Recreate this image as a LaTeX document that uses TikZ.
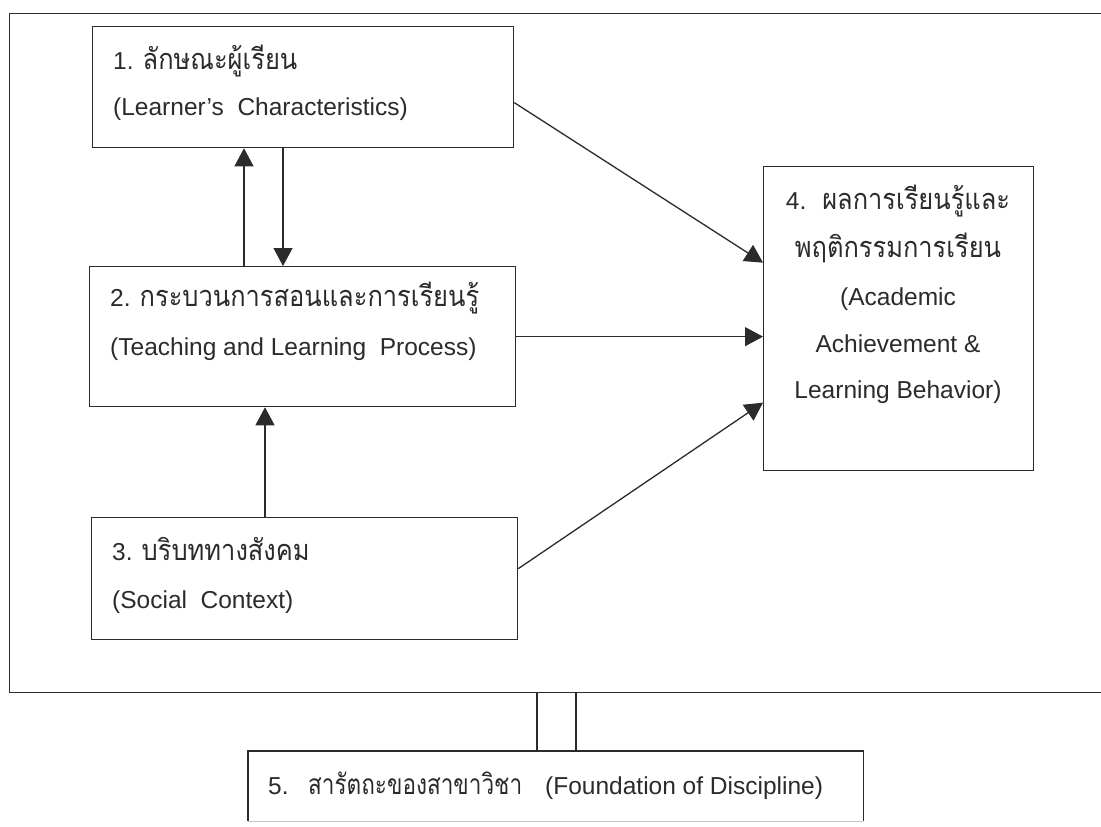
\documentclass[tikz,border=0pt]{standalone}
\usepackage{fontspec}
\setmainfont{Liberation Sans}
\newfontfamily\thaifont[Script=Thai,Scale=1.18,FakeStretch=0.88]{Loma}
\newfontfamily\thaifontsm[Script=Thai,Scale=1.15,FakeStretch=0.8]{Loma}
\usetikzlibrary{arrows.meta}
\definecolor{ink}{HTML}{2B2B2B}
\newcommand{\thtxt}[1]{{\thaifont #1}}

\begin{document}
\begin{tikzpicture}[x=1pt,y=-1pt,
  box/.style={draw=ink, line width=1.3pt, rectangle, inner sep=0pt, anchor=north west},
  lbl/.style={anchor=base west, inner sep=0pt, text=ink, font=\fontsize{24.5}{29}\selectfont},
  clbl/.style={lbl, anchor=base},
  link/.style={draw=ink, line width=1.3pt, -{Triangle[length=18pt,width=19pt]}},
  rail/.style={draw=ink, line width=1.3pt},
]
\useasboundingbox[fill=white] (0,0) rectangle (1101,827);

% outer frame (its right side runs past the page edge)
\node[box, minimum width=1120pt, minimum height=679pt] (frame) at (9,13) {};

% the four boxes of the model
\node[box, minimum width=421pt, minimum height=121pt] (b1) at (92,26) {};
\node[box, minimum width=426pt, minimum height=140pt] (b2) at (89,266) {};
\node[box, minimum width=426pt, minimum height=122pt] (b3) at (91,517) {};
\node[box, minimum width=270pt, minimum height=304pt] (b4) at (763,166) {};

% foundation box below the frame, cut by the page bottom
\node[anchor=north west, inner sep=0pt, minimum width=615pt, minimum height=70pt] (b5) at (248,751) {};
\draw[rail] (b5.south west) -- (b5.north west) -- (b5.north east) -- (b5.south east);
\draw[gray!45, line width=1pt] (b5.south west) -- (b5.south east);

% labels
\node[lbl] (t1a) at (113,69) {1. \thtxt{ลักษณะผู้เรียน}};
\node[lbl] (t1b) at (113,115) {(Learner’s~ Characteristics)};
\node[lbl] (t2a) at (110,306) {2. \thtxt{กระบวนการสอนและการเรียนรู้}};
\node[lbl] (t2b) at (110,355) {(Teaching and Learning~ Process)};
\node[lbl] (t3a) at (112,560) {3. \thtxt{บริบททางสังคม}};
\node[lbl] (t3b) at (112,608) {(Social~ Context)};
\node[clbl] (t4a) at (898,209) {4.~ \thtxt{ผลการเรียนรู้และ}};
\node[clbl] (t4b) at (898,257) {\thtxt{พฤติกรรมการเรียน}};
\node[clbl] (t4c) at (898,305) {(Academic};
\node[clbl] (t4d) at (898,352) {Achievement \&};
\node[clbl] (t4e) at (898,398) {Learning Behavior)};
\node[lbl] (t5a) at (268,794) {5.};
\node[lbl] (t5b) at (308,794) {\thaifontsm สารัตถะของสาขาวิชา};
\node[lbl] (t5c) at (545,794) {(Foundation of Discipline)};

% column positions of the vertical connectors
\coordinate (cu) at (244,0);
\coordinate (cd) at (283,0);
\coordinate (cs) at (265,0);
\coordinate (ra) at (537,0);
\coordinate (rb) at (576,0);

% connectors
\draw[link] (b2.north -| cu) -- (b1.south -| cu);
\draw[link] (b1.south -| cd) -- (b2.north -| cd);
\draw[link] (b3.north -| cs) -- (b2.south -| cs);
\draw[link] ([yshift=-15.5pt]b1.east) -- ([yshift=56pt]b4.west);
\draw[link] (b2.east) -- (b2.east -| b4.west);
\draw[link] ([yshift=10pt]b3.east) -- ([yshift=-84pt]b4.west);

% double rail between the frame and the foundation box
\draw[rail] (frame.south -| ra) -- (b5.north -| ra);
\draw[rail] (frame.south -| rb) -- (b5.north -| rb);
\end{tikzpicture}
\end{document}
